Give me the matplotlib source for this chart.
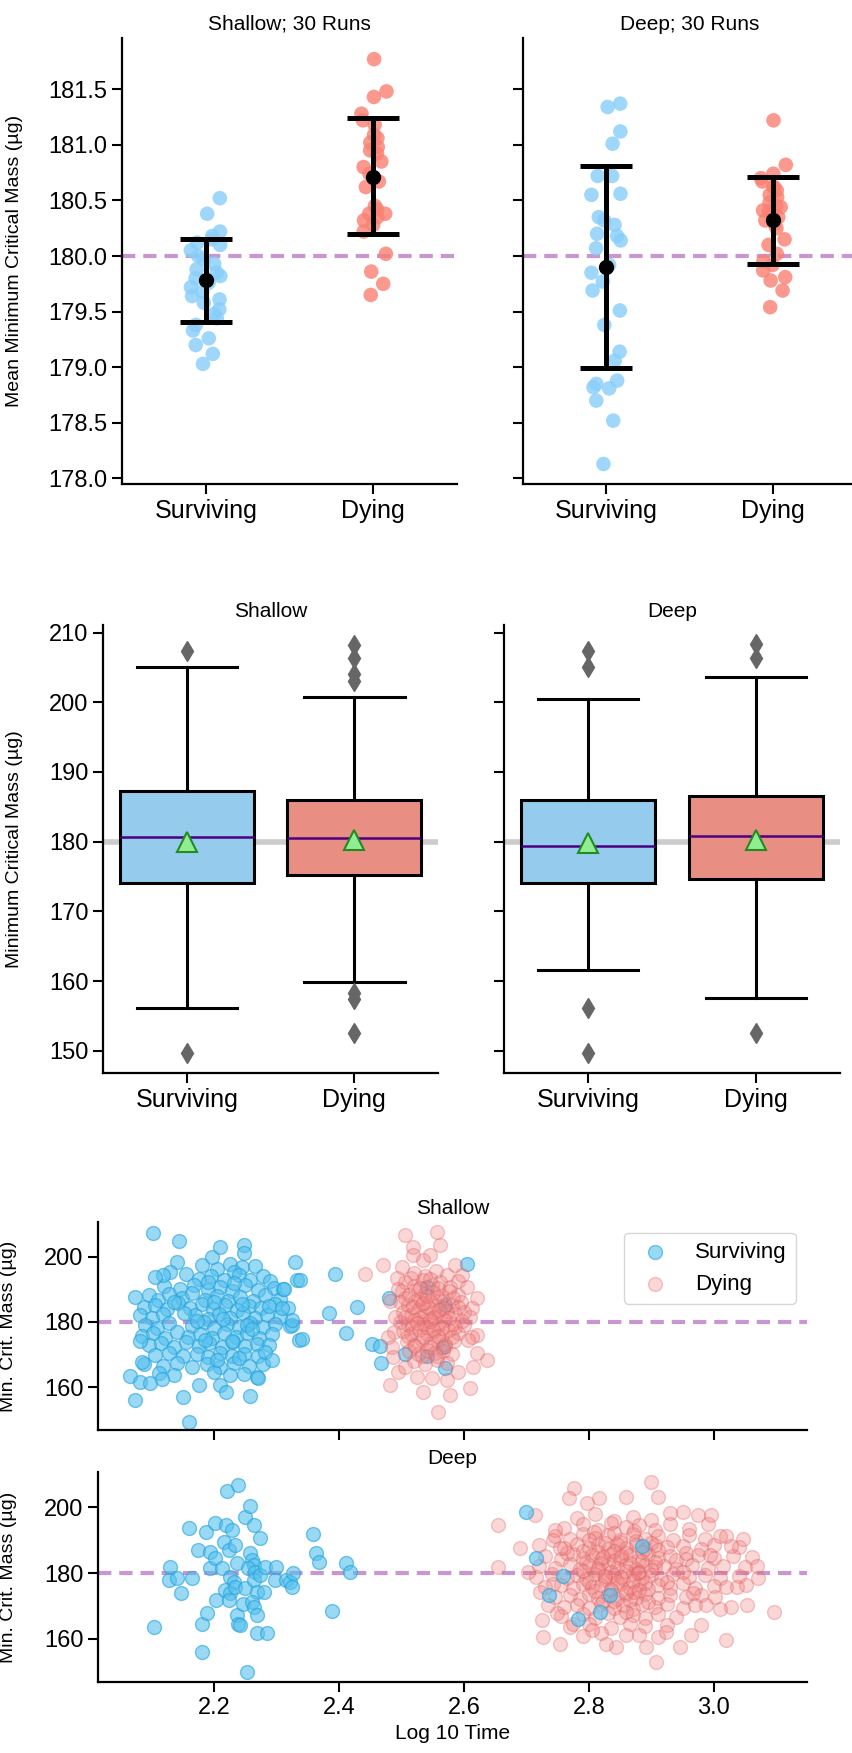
import matplotlib
matplotlib.use('Agg')
import matplotlib.pyplot as plt
import numpy as np
import pandas as pd
import seaborn as sns

plt.rcParams['font.family'] = ['Liberation Sans', 'DejaVu Sans']

groups = ['Surviving', 'Dying']
palette = {'Surviving': 'lightskyblue', 'Dying': 'salmon'}

# ---- top row: mean minimum critical mass of each run (30 runs) ----
shallow_surv_means = [180.52, 180.38, 180.22, 180.18, 180.15, 180.12, 180.10, 180.05, 180.00, 179.97,
                      179.93, 179.88, 179.85, 179.82, 179.80, 179.76, 179.72, 179.68, 179.64, 179.61,
                      179.58, 179.52, 179.48, 179.44, 179.38, 179.33, 179.26, 179.20, 179.12, 179.03]
shallow_dying_means = [181.77, 181.48, 181.43, 181.28, 181.22, 181.18, 181.09, 181.06, 181.02, 180.98,
                       180.95, 180.92, 180.85, 180.80, 180.74, 180.70, 180.67, 180.62, 180.45, 180.42,
                       180.38, 180.38, 180.35, 180.32, 180.28, 180.22, 180.02, 179.86, 179.75, 179.65]
deep_surv_means = [181.37, 181.34, 181.12, 181.01, 180.72, 180.72, 180.56, 180.55, 180.35, 180.32,
                   180.28, 180.20, 180.18, 180.14, 180.07, 179.92, 179.85, 179.77, 179.69, 179.51,
                   179.38, 179.14, 179.06, 178.88, 178.85, 178.82, 178.81, 178.70, 178.52, 178.13]
deep_dying_means = [181.22, 180.82, 180.74, 180.70, 180.67, 180.62, 180.62, 180.59, 180.55, 180.53,
                    180.48, 180.45, 180.44, 180.41, 180.40, 180.37, 180.35, 180.32, 180.29, 180.25,
                    180.15, 180.10, 180.02, 179.95, 179.92, 179.87, 179.81, 179.78, 179.69, 179.54]

# mean +/- sd bars
shallow_center = [179.78, 180.71]
shallow_low = [179.41, 180.20]
shallow_high = [180.15, 181.24]
deep_center = [179.90, 180.32]
deep_low = [178.99, 179.93]
deep_high = [180.81, 180.71]

# ---- middle row: box statistics ----
shallow_boxes = [
    dict(label='Surviving', med=180.7, q1=174.1, q3=187.2, whislo=156.2, whishi=205.1, mean=180.0,
         fliers=[207.3, 149.7]),
    dict(label='Dying', med=180.5, q1=175.2, q3=186.0, whislo=159.9, whishi=200.8, mean=180.2,
         fliers=[208.2, 206.3, 204.0, 203.0, 158.3, 157.4, 152.6]),
]
deep_boxes = [
    dict(label='Surviving', med=179.4, q1=174.1, q3=186.0, whislo=161.6, whishi=200.5, mean=179.8,
         fliers=[207.3, 205.0, 156.2, 149.7]),
    dict(label='Dying', med=180.8, q1=174.7, q3=186.6, whislo=157.5, whishi=203.7, mean=180.2,
         fliers=[208.3, 206.3, 152.6]),
]

# ---- bottom rows: (log10 time, min. critical mass) per individual ----
shallow_surv_pts = [
    (2.18, 197.5), (2.205, 196.3), (2.225, 197.8), (2.245, 196.9), (2.265, 197.2), (2.232, 195.4),
    (2.155, 194.8), (2.175, 193.2), (2.195, 194.1), (2.215, 192.8), (2.24, 194.6), (2.258, 193.0), (2.278, 194.2), (2.29, 192.5),
    (2.12, 191.0), (2.145, 190.2), (2.168, 191.5), (2.19, 189.8), (2.21, 190.9), (2.228, 189.4), (2.25, 191.3), (2.27, 189.9), (2.295, 190.6),
    (2.095, 188.2), (2.11, 186.9), (2.128, 188.5), (2.148, 187.4), (2.165, 188.9), (2.185, 186.8), (2.205, 188.0), (2.222, 186.5),
    (2.242, 187.7), (2.262, 186.3), (2.282, 188.4), (2.305, 187.1),
    (2.088, 184.6), (2.105, 185.3), (2.125, 184.1), (2.142, 185.8), (2.162, 184.4), (2.18, 185.6), (2.198, 184.0), (2.218, 185.2),
    (2.236, 183.8), (2.255, 185.0), (2.275, 184.3), (2.298, 185.5), (2.318, 184.2),
    (2.082, 182.1), (2.1, 181.2), (2.118, 182.6), (2.17, 182.0), (2.19, 181.0), (2.208, 182.4), (2.226, 181.3), (2.246, 182.7),
    (2.265, 181.1), (2.285, 182.2), (2.305, 181.4),
    (2.09, 179.2), (2.108, 178.3), (2.128, 179.6), (2.165, 178.8), (2.183, 179.9), (2.2, 178.1), (2.22, 179.5), (2.24, 178.4),
    (2.258, 179.8), (2.278, 178.6), (2.298, 179.3), (2.322, 178.7),
    (2.085, 175.8), (2.102, 176.6), (2.122, 175.2), (2.14, 176.9), (2.158, 175.5), (2.178, 176.3), (2.196, 175.0), (2.215, 176.7),
    (2.235, 175.4), (2.252, 176.5), (2.272, 175.1), (2.292, 176.2),
    (2.095, 172.8), (2.115, 173.6), (2.135, 172.4), (2.155, 173.9), (2.175, 172.6), (2.192, 173.5), (2.212, 172.2), (2.23, 173.7),
    (2.25, 172.5), (2.268, 173.3), (2.288, 172.9),
    (2.105, 169.8), (2.128, 170.6), (2.15, 169.4), (2.172, 170.2), (2.19, 169.1), (2.21, 170.5), (2.228, 169.5), (2.248, 170.1), (2.27, 169.6),
    (2.088, 167.2), (2.118, 166.6), (2.14, 167.5), (2.165, 166.3), (2.188, 167.0), (2.21, 166.1), (2.232, 167.4), (2.255, 166.5), (2.278, 167.0),
    (2.112, 164.2), (2.135, 163.8), (2.2, 164.5), (2.225, 163.6), (2.248, 164.0), (2.268, 163.2),
    (2.19, 192.2), (2.232, 191.9), (2.2, 186.2), (2.245, 185.6), (2.172, 180.4), (2.214, 180.9), (2.252, 179.0), (2.186, 174.6),
    (2.228, 174.1), (2.26, 177.7), (2.205, 168.4), (2.24, 168.9), (2.152, 182.8), (2.135, 186.0), (2.288, 184.8), (2.282, 170.8),
    (2.102, 207.3), (2.143, 205.0), (2.14, 198.6), (2.13, 195.5), (2.118, 194.5), (2.105, 193.7), (2.073, 187.6), (2.081, 174.0),
    (2.084, 167.8), (2.065, 163.4), (2.081, 161.6), (2.097, 161.1), (2.116, 162.5), (2.073, 156.0), (2.15, 157.0), (2.159, 149.3),
    (2.176, 160.7), (2.209, 160.7), (2.219, 158.6), (2.257, 157.3), (2.27, 162.9), (2.293, 168.3), (2.196, 200.1), (2.21, 203.2),
    (2.247, 203.7), (2.247, 201.1), (2.31, 190.1), (2.329, 198.4), (2.332, 192.9), (2.324, 179.1), (2.335, 174.5),
    (2.338, 192.9), (2.312, 190.0), (2.309, 184.2), (2.325, 180.6), (2.341, 174.8), (2.394, 194.8), (2.384, 182.9),
    (2.429, 184.7), (2.411, 176.5), (2.453, 173.2), (2.466, 172.6), (2.467, 167.5), (2.48, 187.5), (2.605, 197.8), (2.506, 170.2),
    (2.541, 169.6), (2.57, 165.7), (2.566, 172.4), (2.541, 190.9), (2.57, 185.2),
]
shallow_dying_pts = [
    (2.52, 195.2), (2.538, 194.0), (2.555, 195.8), (2.572, 194.5),
    (2.505, 192.3), (2.52, 191.0), (2.535, 192.8), (2.548, 191.5), (2.562, 192.2), (2.578, 190.8), (2.59, 192.5),
    (2.5, 189.5), (2.512, 188.2), (2.526, 189.8), (2.538, 188.6), (2.55, 189.3), (2.564, 188.0), (2.576, 189.6), (2.59, 188.4),
    (2.498, 186.0), (2.51, 185.2), (2.522, 186.6), (2.533, 185.4), (2.545, 186.3), (2.556, 185.0), (2.568, 186.4), (2.58, 185.3), (2.595, 186.1),
    (2.503, 183.2), (2.515, 182.0), (2.527, 183.6), (2.538, 182.3), (2.55, 183.0), (2.561, 181.8), (2.573, 183.4), (2.586, 182.4), (2.6, 183.0),
    (2.498, 180.1), (2.51, 179.0), (2.522, 180.6), (2.534, 179.4), (2.546, 180.3), (2.558, 179.1), (2.57, 180.5), (2.582, 179.3), (2.596, 180.2),
    (2.502, 177.2), (2.515, 176.2), (2.528, 177.6), (2.54, 176.4), (2.552, 177.1), (2.564, 176.0), (2.576, 177.5), (2.59, 176.6),
    (2.508, 174.1), (2.52, 173.0), (2.533, 174.5), (2.545, 173.3), (2.558, 174.2), (2.57, 173.1), (2.584, 174.0),
    (2.512, 171.0), (2.527, 170.2), (2.54, 171.4), (2.554, 170.4), (2.567, 171.2), (2.58, 170.0),
    (2.52, 168.0), (2.538, 167.2), (2.556, 168.3), (2.572, 167.5),
    (2.515, 193.5), (2.545, 193.2), (2.53, 190.4), (2.558, 190.6), (2.506, 187.5), (2.53, 187.2), (2.556, 187.6), (2.582, 187.4),
    (2.518, 184.5), (2.542, 184.7), (2.566, 184.3), (2.59, 184.6), (2.505, 181.5), (2.53, 181.3), (2.552, 181.6), (2.576, 181.2),
    (2.516, 178.4), (2.54, 178.6), (2.564, 178.3), (2.586, 178.5), (2.51, 175.6), (2.534, 175.4), (2.558, 175.7), (2.58, 175.3),
    (2.522, 172.5), (2.546, 172.3), (2.57, 172.6), (2.532, 169.4), (2.556, 169.6), (2.545, 181.0), (2.535, 185.8), (2.55, 177.8),
    (2.54, 188.0), (2.525, 179.8), (2.56, 183.8),
    (2.506, 206.8), (2.557, 207.8), (2.519, 203.2), (2.562, 203.7), (2.519, 200.6), (2.47, 197.5), (2.442, 194.8), (2.493, 193.4),
    (2.534, 199.1), (2.585, 197.5), (2.597, 194.5), (2.605, 190.9), (2.621, 187.3), (2.613, 184.2), (2.482, 186.3), (2.49, 181.6),
    (2.488, 177.0), (2.478, 175.5), (2.485, 172.4), (2.621, 176.0), (2.613, 175.5), (2.606, 174.5), (2.621, 170.4), (2.637, 168.3),
    (2.615, 166.3), (2.487, 169.3), (2.494, 164.7), (2.525, 163.2), (2.549, 162.7), (2.573, 162.2), (2.482, 160.6), (2.534, 158.6),
    (2.578, 157.5), (2.61, 159.6), (2.558, 152.4), (2.505, 166.0), (2.59, 164.5), (2.6, 179.0), (2.61, 181.5), (2.495, 190.2),
    (2.5, 197.0), (2.545, 200.5),
]
deep_surv_pts = [
    (2.103, 163.6), (2.129, 181.9), (2.128, 177.9), (2.14, 178.4), (2.147, 174.0), (2.159, 193.7), (2.165, 178.4), (2.174, 187.0),
    (2.18, 164.6), (2.189, 167.9), (2.181, 156.0), (2.187, 192.6), (2.201, 195.2), (2.193, 186.5), (2.194, 181.4), (2.202, 184.5),
    (2.213, 181.4), (2.203, 171.7), (2.22, 204.9), (2.238, 206.9), (2.219, 194.7), (2.228, 193.1), (2.216, 189.6), (2.223, 187.0),
    (2.234, 188.6), (2.236, 183.0), (2.225, 178.9), (2.231, 177.3), (2.218, 174.8), (2.225, 173.8), (2.233, 175.8), (2.224, 171.7),
    (2.236, 167.2), (2.238, 164.6), (2.241, 164.1), (2.246, 170.7), (2.249, 175.3), (2.252, 149.8), (2.249, 197.2), (2.257, 200.3),
    (2.263, 194.7), (2.257, 186.0), (2.26, 184.0), (2.263, 182.4), (2.254, 181.4), (2.265, 180.4), (2.263, 177.9), (2.268, 174.3),
    (2.26, 171.2), (2.263, 169.7), (2.268, 167.2), (2.273, 190.6), (2.273, 179.4), (2.279, 174.3), (2.269, 161.8), (2.284, 161.8),
    (2.281, 181.7), (2.299, 181.9), (2.297, 177.9), (2.315, 177.9), (2.321, 177.3), (2.326, 179.9), (2.325, 175.8), (2.358, 191.9),
    (2.363, 186.2), (2.368, 183.5), (2.389, 168.4), (2.411, 183.0), (2.418, 180.2),
    (2.699, 198.5), (2.715, 184.7), (2.758, 179.1), (2.736, 173.3), (2.782, 166.1), (2.834, 173.3), (2.818, 168.0), (2.885, 188.2),
]
deep_dying_pts = [
    (2.78, 196.8), (2.81, 197.9), (2.84, 195.9), (2.87, 197.2), (2.90, 196.1), (2.93, 198.3),
    (2.76, 193.6), (2.79, 194.9), (2.815, 193.1), (2.835, 195.2), (2.86, 193.9), (2.88, 194.6), (2.905, 193.2), (2.93, 194.8),
    (2.96, 193.5), (2.99, 195.0),
    (2.745, 191.4), (2.77, 190.3), (2.79, 191.9), (2.81, 190.6), (2.83, 191.6), (2.85, 190.1), (2.87, 191.8), (2.89, 190.4),
    (2.91, 191.3), (2.935, 190.2), (2.96, 191.7), (2.985, 190.5), (3.02, 191.4),
    (2.72, 188.4), (2.76, 187.5), (2.78, 188.9), (2.80, 187.7), (2.815, 188.6), (2.83, 187.2), (2.845, 188.8), (2.86, 187.6),
    (2.875, 188.5), (2.89, 187.3), (2.905, 188.7), (2.925, 187.8), (2.95, 188.3), (2.98, 187.4), (3.0, 188.6), (3.04, 187.9),
    (2.73, 185.3), (2.755, 184.4), (2.775, 185.8), (2.79, 184.6), (2.805, 185.5), (2.82, 184.2), (2.835, 185.9), (2.85, 184.7),
    (2.865, 185.4), (2.88, 184.1), (2.895, 185.7), (2.91, 184.5), (2.93, 185.2), (2.955, 184.3), (2.975, 185.6), (3.0, 184.6), (3.03, 185.1),
    (2.72, 182.3), (2.745, 181.5), (2.77, 182.7), (2.785, 181.3), (2.80, 182.5), (2.815, 181.6), (2.83, 182.8), (2.845, 181.4),
    (2.86, 182.4), (2.875, 181.2), (2.89, 182.6), (2.905, 181.7), (2.92, 182.2), (2.94, 181.3), (2.965, 182.6), (2.99, 181.5),
    (3.015, 182.3), (3.05, 181.7),
    (2.715, 178.8), (2.74, 179.6), (2.765, 178.4), (2.78, 179.5), (2.795, 178.2), (2.81, 179.7), (2.825, 178.6), (2.84, 179.4),
    (2.855, 178.1), (2.87, 179.8), (2.885, 178.5), (2.9, 179.3), (2.915, 178.3), (2.935, 179.6), (2.96, 178.7), (2.985, 179.4),
    (3.01, 178.5), (3.04, 179.2), (3.07, 178.6),
    (2.73, 175.7), (2.755, 176.5), (2.775, 175.3), (2.79, 176.8), (2.805, 175.6), (2.82, 176.4), (2.835, 175.1), (2.85, 176.6),
    (2.865, 175.4), (2.88, 176.7), (2.895, 175.2), (2.91, 176.3), (2.93, 175.5), (2.95, 176.9), (2.97, 175.3), (3.0, 176.2), (3.02, 175.6),
    (2.745, 172.6), (2.77, 173.4), (2.785, 172.2), (2.80, 173.7), (2.815, 172.5), (2.83, 173.3), (2.845, 172.1), (2.86, 173.6),
    (2.875, 172.4), (2.89, 173.5), (2.91, 172.3), (2.93, 173.2), (2.955, 172.7), (2.98, 173.4),
    (2.76, 169.6), (2.78, 170.4), (2.80, 169.3), (2.82, 170.7), (2.84, 169.5), (2.855, 170.3), (2.87, 169.2), (2.885, 170.6),
    (2.905, 169.8), (2.925, 170.5), (2.95, 169.4), (2.97, 170.2),
    (2.755, 166.8), (2.79, 167.5), (2.81, 166.4), (2.83, 167.7), (2.85, 166.6), (2.87, 167.3), (2.89, 166.2), (2.91, 167.4), (2.94, 166.7),
    (2.77, 163.7), (2.80, 164.5), (2.835, 163.4), (2.865, 164.6), (2.89, 163.9), (2.925, 164.3),
    (2.79, 160.8), (2.82, 161.6), (2.88, 161.2), (2.91, 160.6),
    (2.80, 190.0), (2.825, 189.2), (2.85, 189.5), (2.875, 189.9), (2.90, 189.1), (2.79, 186.8), (2.815, 186.3), (2.84, 186.6),
    (2.86, 186.1), (2.885, 186.5), (2.91, 186.9), (2.795, 183.5), (2.82, 183.2), (2.84, 183.7), (2.865, 183.1), (2.885, 183.6),
    (2.905, 183.3), (2.79, 180.5), (2.815, 180.8), (2.835, 180.2), (2.86, 180.6), (2.88, 180.3), (2.90, 180.9), (2.80, 177.4),
    (2.825, 177.8), (2.845, 177.2), (2.87, 177.6), (2.89, 177.1), (2.81, 174.5), (2.835, 174.8), (2.86, 174.3), (2.88, 174.9),
    (2.84, 171.4), (2.865, 171.8),
    (2.808, 192.5), (2.84, 192.2), (2.872, 192.8), (2.822, 185.0), (2.852, 185.2), (2.878, 180.0), (2.826, 179.2), (2.852, 178.7),
    (2.872, 174.1), (2.822, 171.6), (2.895, 171.2), (2.86, 168.1), (2.94, 183.9), (2.95, 180.4), (2.925, 177.4),
    (2.776, 205.9), (2.768, 202.8), (2.797, 201.3), (2.816, 202.8), (2.859, 203.3), (2.899, 207.9), (2.91, 203.3), (2.951, 198.5),
    (2.975, 197.7), (2.996, 197.7), (3.009, 191.3), (3.046, 190.3), (3.028, 188.1), (3.061, 184.8), (3.069, 182.1), (3.037, 175.8),
    (3.052, 176.3), (3.053, 170.2), (3.028, 169.7), (3.009, 168.9), (3.096, 168.2), (2.98, 164.1), (2.964, 161.0), (3.019, 159.7),
    (2.945, 157.5), (2.908, 152.9), (2.892, 157.5), (2.859, 161.0), (2.843, 157.5), (2.827, 158.5), (2.754, 158.5), (2.805, 162.6),
    (2.924, 162.1), (3.002, 172.8), (2.988, 170.2), (2.967, 173.8), (2.956, 186.0), (2.994, 185.5), (2.654, 194.7), (2.654, 181.9),
    (2.69, 187.5), (2.714, 197.7), (2.703, 180.4), (2.746, 193.1), (2.742, 190.1), (2.722, 174.3), (2.724, 165.6), (2.727, 160.5),
    (2.749, 167.7), (2.735, 170.2), (2.765, 186.0), (2.754, 187.5), (2.775, 164.6), (2.742, 176.8),
]

ref_mass = 180
dash_color = '#c896d0'
tick_fs = 17


def style_axes(ax):
    for side in ['top', 'right']:
        ax.spines[side].set_visible(False)
    for side in ['left', 'bottom']:
        ax.spines[side].set_linewidth(1.6)
    ax.tick_params(labelsize=tick_fs, length=7, width=1.5)


def strip_panel(ax, surv, dying, center, low, high, title):
    df = pd.DataFrame({'group': ['Surviving'] * len(surv) + ['Dying'] * len(dying),
                       'value': surv + dying})
    np.random.seed(4)
    sns.stripplot(data=df, x='group', y='value', hue='group', order=groups, hue_order=groups,
                  palette=palette, size=10.5, alpha=0.8, jitter=0.09, legend=False, ax=ax, zorder=1)
    ax.axhline(ref_mass, color=dash_color, lw=3, dashes=(3.2, 1.9), zorder=0)
    yerr = [np.subtract(center, low), np.subtract(high, center)]
    ax.errorbar([0, 1], center, yerr=yerr, fmt='o', color='black', ms=10,
                elinewidth=3.6, capsize=19, capthick=3.6, zorder=5)
    ax.set_xlim(-0.5, 1.5)
    ax.set_title(title, fontsize=15)
    ax.set_xlabel('')
    ax.set_ylabel('')
    style_axes(ax)
    ax.tick_params(axis='x', labelsize=18)


def box_panel(ax, stats, title):
    bp = ax.bxp(stats, positions=[0, 1], widths=0.8, capwidths=0.6, patch_artist=True, showmeans=True,
                boxprops=dict(lw=2.2, edgecolor='black'),
                whiskerprops=dict(lw=2.2, color='black'),
                capprops=dict(lw=2.2, color='black'),
                medianprops=dict(color='#4b0082', lw=1.8),
                meanprops=dict(marker='^', markerfacecolor='#90ee90', markeredgecolor='#228b22',
                               markersize=14, markeredgewidth=1.5),
                flierprops=dict(marker='d', markerfacecolor='#666666', markeredgecolor='#666666',
                                markersize=10))
    for patch, g in zip(bp['boxes'], groups):
        patch.set_facecolor(sns.desaturate(palette[g], 0.75))
    ax.axhline(ref_mass, color='#cccccc', lw=4, zorder=0)
    ax.set_xlim(-0.5, 1.5)
    ax.set_ylim(146.8, 211.1)
    ax.set_yticks(range(150, 211, 10))
    ax.set_title(title, fontsize=15)
    style_axes(ax)
    ax.tick_params(axis='x', labelsize=18)


def scatter_panel(ax, surv_pts, dying_pts, title, surv_on_top):
    sx, sy = zip(*surv_pts)
    dx, dy = zip(*dying_pts)
    z_s, z_d = (3, 2) if surv_on_top else (2, 3)
    ax.scatter(sx, sy, s=100, color='#55c0ee', alpha=0.6, edgecolors='#22a2dc', linewidths=1,
               label='Surviving', zorder=z_s)
    ax.scatter(dx, dy, s=100, color='#f08080', alpha=0.32, edgecolors='#e05a5a', linewidths=1,
               label='Dying', zorder=z_d)
    ax.axhline(ref_mass, color=dash_color, lw=3, dashes=(3.2, 1.9), zorder=1)
    ax.set_xlim(2.014, 3.149)
    ax.set_ylim(146.8, 210.8)
    ax.set_yticks([160, 180, 200])
    ax.set_xticks([2.2, 2.4, 2.6, 2.8, 3.0])
    ax.set_title(title, fontsize=15)
    ax.set_ylabel('Min. Crit. Mass (µg)', fontsize=14)
    ax.yaxis.set_label_coords(-0.114, 0.5)
    style_axes(ax)


fig = plt.figure(figsize=(8.52, 17.53), dpi=100)

ax_ts = fig.add_axes([0.1432, 0.7239, 0.3932, 0.2544])
ax_td = fig.add_axes([0.6138, 0.7239, 0.3908, 0.2544], sharey=ax_ts)
strip_panel(ax_ts, shallow_surv_means, shallow_dying_means, shallow_center, shallow_low, shallow_high,
            'Shallow; 30 Runs')
strip_panel(ax_td, deep_surv_means, deep_dying_means, deep_center, deep_low, deep_high, 'Deep; 30 Runs')
ax_ts.set_ylim(177.95, 181.96)
ax_ts.set_yticks(np.arange(178.0, 181.6, 0.5))
ax_ts.yaxis.set_major_formatter(matplotlib.ticker.FormatStrFormatter('%.1f'))
ax_td.tick_params(axis='y', labelleft=False)
ax_ts.set_ylabel('Mean Minimum Critical Mass (µg)', fontsize=14)
ax_ts.yaxis.set_label_coords(-0.296, 0.5)

ax_ms = fig.add_axes([0.1209, 0.3879, 0.3932, 0.2556])
ax_md = fig.add_axes([0.5915, 0.3879, 0.3944, 0.2556])
box_panel(ax_ms, shallow_boxes, 'Shallow')
box_panel(ax_md, deep_boxes, 'Deep')
ax_md.tick_params(axis='y', labelleft=False)
ax_ms.set_ylabel('Minimum Critical Mass (µg)', fontsize=14)
ax_ms.yaxis.set_label_coords(-0.239, 0.5)

ax_bs = fig.add_axes([0.1150, 0.1843, 0.8322, 0.1187])
ax_bd = fig.add_axes([0.1150, 0.0405, 0.8322, 0.1198])
scatter_panel(ax_bs, shallow_surv_pts, shallow_dying_pts, 'Shallow', surv_on_top=False)
scatter_panel(ax_bd, deep_surv_pts, deep_dying_pts, 'Deep', surv_on_top=True)
ax_bs.tick_params(axis='x', labelbottom=False)
ax_bs.legend(loc='upper right', fontsize=16)
ax_bd.set_xlabel('Log 10 Time', fontsize=15)

fig.savefig('out.png', dpi=100)
